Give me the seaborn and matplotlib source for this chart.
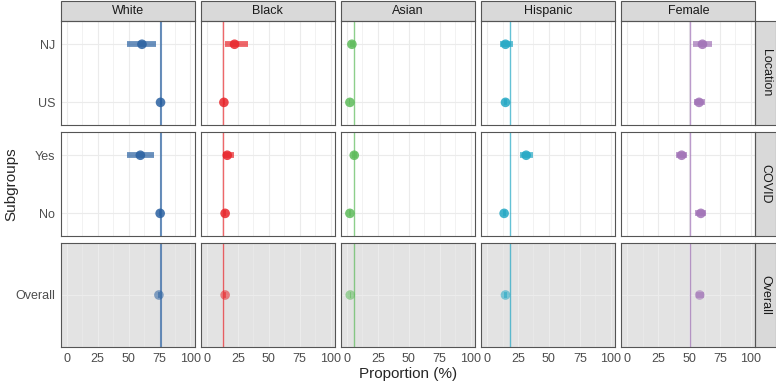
import numpy as np
import pandas as pd
import seaborn as sns
import matplotlib.pyplot as plt
from matplotlib.patches import Rectangle

# data
groups = ["White", "Black", "Asian", "Hispanic", "Female"]
colors = ["#2A61A1", "#E8262B", "#5DBB5A", "#22A7C4", "#A071B6"]
ref_values = [75.8, 13.4, 5.9, 18.5, 50.8]
panels = ["Location", "COVID", "Overall"]
panel_of_row = ["Location", "Location", "COVID", "COVID", "Overall"]
subgroups = ["NJ", "US", "Yes", "No", "Overall"]

white_est = [60.8, 75.8, 59.5, 75.5, 74.5]
white_lo = [48.7, 75.0, 48.7, 74.8, 73.8]
white_hi = [72.4, 76.6, 70.3, 76.2, 75.2]
black_est = [22.4, 13.8, 16.5, 14.8, 14.8]
black_lo = [14.3, 13.2, 13.0, 13.9, 14.0]
black_hi = [33.2, 14.4, 21.6, 15.7, 15.6]
asian_est = [4.0, 2.4, 5.9, 2.4, 2.7]
asian_lo = [2.8, 2.0, 3.8, 1.9, 2.1]
asian_hi = [5.5, 2.8, 8.0, 2.9, 3.3]
hisp_est = [14.9, 14.9, 31.6, 13.8, 14.9]
hisp_lo = [10.8, 14.0, 27.0, 12.6, 13.9]
hisp_hi = [20.8, 15.8, 37.3, 15.0, 15.9]
fem_est = [60.8, 58.1, 44.0, 59.5, 58.6]
fem_lo = [53.2, 54.0, 39.7, 55.0, 55.5]
fem_hi = [68.4, 62.7, 48.1, 63.8, 61.8]

est = [white_est, black_est, asian_est, hisp_est, fem_est]
lo = [white_lo, black_lo, asian_lo, hisp_lo, fem_lo]
hi = [white_hi, black_hi, asian_hi, hisp_hi, fem_hi]

rows = []
for g, e, l, h in zip(groups, est, lo, hi):
    for i, s in enumerate(subgroups):
        rows.append({"group": g, "panel": panel_of_row[i], "subgroup": s,
                     "est": e[i], "lo": l[i], "hi": h[i]})
df = pd.DataFrame(rows)

sns.set_theme(style="white")
plt.rcParams['font.family'] = ['Liberation Sans', 'DejaVu Sans']

fig, axes = plt.subplots(3, 5, figsize=(7.76, 3.82), dpi=100, sharex=True)
fig.subplots_adjust(left=0.0786, right=0.973, top=0.945, bottom=0.0916,
                    wspace=0.049, hspace=0.067)

border = "#555555"
for r, panel in enumerate(panels):
    cats = [s for s, p in zip(subgroups, panel_of_row) if p == panel]
    for c, g in enumerate(groups):
        ax = axes[r, c]
        sub = df[(df.group == g) & (df.panel == panel)].copy()
        sub["ypos"] = sub["subgroup"].map({s: i for i, s in enumerate(cats)})
        overall = panel == "Overall"
        ax.set_facecolor("#E3E3E3" if overall else "white")
        grid_col = "#ECECEC" if overall else "#EBEBEB"
        for x in [0, 25, 50, 75, 100]:
            ax.axvline(x, color=grid_col, lw=0.8, zorder=0)
        for x in [12.5, 37.5, 62.5, 87.5]:
            ax.axvline(x, color=grid_col, lw=0.45, zorder=0)
        for y in range(len(cats)):
            ax.axhline(y, color=grid_col, lw=0.8, zorder=0)

        ax.axvline(ref_values[c], color=colors[c], lw=1.5 if c == 0 else 1.0,
                   alpha=0.7, zorder=2)
        a = 0.55 if overall else 0.7
        ax.hlines(sub["ypos"], sub["lo"], sub["hi"], color=colors[c], lw=4.2,
                  alpha=a, zorder=3)
        sns.scatterplot(data=sub, x="est", y="ypos", ax=ax, color=colors[c],
                        s=48, alpha=0.55 if overall else 0.85, edgecolor="none",
                        legend=False, zorder=4)

        ax.set_xlim(-4.6, 103.3)
        if len(cats) > 1:
            ax.set_ylim(len(cats) - 1 + 0.39, -0.4)
        else:
            ax.set_ylim(0.5, -0.5)
        ax.set_xlabel("")
        ax.set_ylabel("")
        ax.set_xticks([0, 25, 50, 75, 100])
        ax.set_yticks(range(len(cats)))
        if c == 0:
            ax.set_yticklabels(cats)
        else:
            ax.set_yticklabels([])
        ax.tick_params(axis="both", labelsize=9, labelcolor="#4D4D4D",
                       color=border, length=2.7, width=0.6, pad=1.5)
        if c != 0:
            ax.tick_params(axis="y", length=0)
        if r != 2:
            ax.tick_params(axis="x", length=0)
        for sp in ax.spines.values():
            sp.set_color(border)
            sp.set_linewidth(0.8)
            sp.set_zorder(5)

        # column strips
        if r == 0:
            h = 20 / 104.5
            ax.add_patch(Rectangle((0, 1), 1, h, transform=ax.transAxes,
                                   facecolor="#D9D9D9", edgecolor=border,
                                   lw=0.8, clip_on=False))
            ax.text(0.5, 1 + h / 2, g, transform=ax.transAxes, ha="center",
                    va="center", fontsize=9, color="#1A1A1A")
        # row strips
        if c == 4:
            w = 21 / 133.5
            ax.add_patch(Rectangle((1, 0), w, 1, transform=ax.transAxes,
                                   facecolor="#D9D9D9", edgecolor=border,
                                   lw=0.8, clip_on=False))
            ax.text(1 + w / 2, 0.5, panel, transform=ax.transAxes, ha="center",
                    va="center", rotation=270, fontsize=9, color="#1A1A1A")

fig.text(0.526, 0.003, "Proportion (%)", ha="center", va="bottom", fontsize=11)
fig.text(0.006, 0.518, "Subgroups", ha="left", va="center", rotation=90,
         fontsize=11)

plt.savefig("out.png", dpi=100)
